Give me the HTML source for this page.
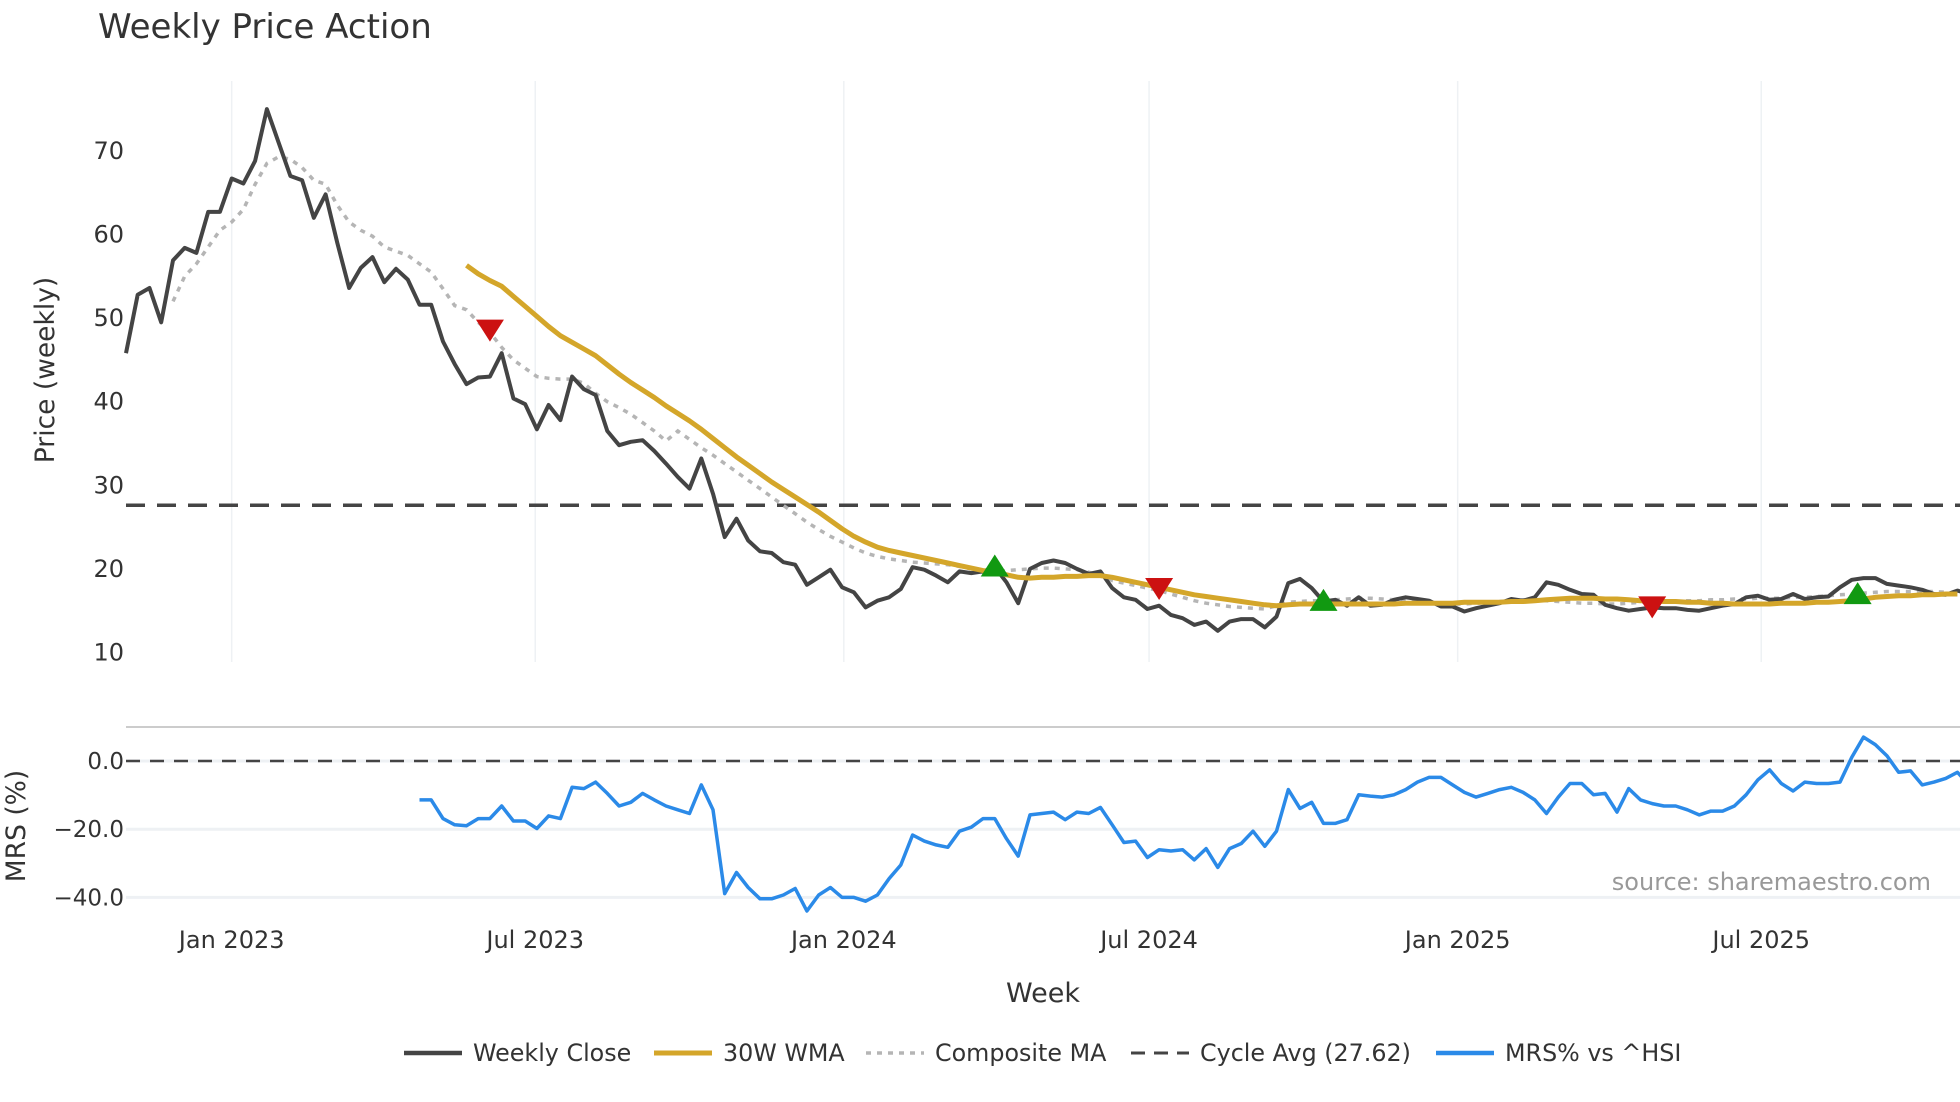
<!DOCTYPE html>
<html><head><meta charset="utf-8"><style>
body{margin:0;background:#fff;}
svg{display:block;font-family:"DejaVu Sans","Liberation Sans",sans-serif;}
</style></head><body>
<svg id="chart" width="1960" height="1102" viewBox="0 0 1960 1102">
<text x="98" y="38" font-size="34" fill="#333">Weekly Price Action</text>
<g id="grid"></g><g id="series"></g><g id="axes"></g>
<text x="1931" y="890" text-anchor="end" font-size="24" fill="#999">source: sharemaestro.com</text>
<text transform="translate(54,370) rotate(-90)" text-anchor="middle" font-size="26.5" fill="#333">Price (weekly)</text>
<text transform="translate(25,826) rotate(-90)" text-anchor="middle" font-size="26.5" fill="#333">MRS (%)</text>
<text x="1043" y="1002" text-anchor="middle" font-size="27" fill="#333">Week</text>
<g id="legend"></g>
</svg>
<script>
const startDate = new Date(2022,9,30);
const closeVals = [45.8,52.8,53.6,49.5,56.9,58.4,57.8,62.7,62.7,66.7,66.1,68.8,75,71,67,66.5,62,64.8,59,53.6,56,57.3,54.3,55.9,54.6,51.6,51.6,47.2,44.5,42.1,42.9,43,45.8,40.4,39.7,36.7,39.6,37.8,43,41.5,40.8,36.5,34.8,35.2,35.4,34.1,32.6,31,29.6,33.2,29,23.8,26,23.4,22.1,21.9,20.8,20.5,18.1,19,19.9,17.8,17.2,15.4,16.2,16.6,17.6,20.2,19.9,19.2,18.4,19.7,19.5,19.7,20.2,18.4,15.9,20,20.7,21,20.7,20,19.4,19.7,17.7,16.6,16.3,15.2,15.6,14.5,14.1,13.3,13.7,12.6,13.7,14,14,13,14.3,18.3,18.8,17.7,16.1,16.3,15.6,16.6,15.6,15.7,16.3,16.6,16.4,16.2,15.5,15.5,14.9,15.3,15.6,15.9,16.4,16.2,16.6,18.4,18.1,17.5,17,16.9,15.7,15.3,15,15.2,15.4,15.3,15.3,15.1,15,15.3,15.6,15.8,16.6,16.8,16.3,16.4,17,16.4,16.6,16.7,17.8,18.7,18.9,18.9,18.2,18,17.8,17.5,17,16.9,17.4,17];
const compositeStart = 4;
const compositeVals = [52,55,56.5,58.5,60.5,61.5,63,66,68.5,69.3,69,68,66.5,66,63.5,61.5,60.5,59.8,58.5,58,57.5,56.5,55.5,53.5,51.5,51,49.5,48.3,46.5,45,44,43,42.8,42.7,42.7,42.2,41,40,39.3,38.5,37.5,36.5,35.3,36.5,35.5,
34.5,33.6,32.6,31.6,30.6,29.6,28.6,27.6,26.6,25.6,
24.7,23.9,23.2,22.5,21.9,21.5,21.2,21.0,20.8,20.7,20.6,20.5,20.3,20.0,19.6,19.7,19.8,19.9,20.0,20.1,20.1,20.0,19.9,19.6,19.2,18.6,18.3,18.0,17.7,17.4,17.0,16.6,16.2,15.9,15.7,15.5,15.4,15.3,15.2,15.6,16.0,16.1,16.2,16.2,16.3,16.4,16.5,16.5,16.4,16.3,16.2,16.1,16.0,15.9,15.8,15.8,15.9,16.0,16.1,16.2,16.3,16.3,16.2,16.1,16.0,15.9,15.9,15.8,15.8,15.9,16.0,16.0,16.1,16.1,16.2,16.2,16.3,16.3,16.4,16.4,16.5,16.5,16.5,16.6,16.6,16.7,16.8,16.9,17.0,17.1,17.2,17.3,17.3,17.3,17.3,17.3,17.2];
const wmaStart = 29;
const wmaVals = [56.3,55.3,54.5,53.8,52.6,51.4,50.2,49,47.9,47.1,46.3,45.5,44.4,43.3,42.3,41.4,40.5,39.5,38.6,37.7,
36.7,35.6,34.5,33.4,32.4,31.4,30.4,29.5,28.6,27.7,26.8,25.8,24.8,23.9,23.2,22.6,22.2,21.9,21.6,21.3,21.0,20.7,20.4,20.1,19.8,19.6,19.3,19.0,18.9,
19.0,19.0,19.1,19.1,19.2,19.2,19.0,18.7,18.4,18.1,17.8,17.5,17.2,16.9,16.7,16.5,16.3,16.1,15.9,15.7,15.6,
15.7,15.8,15.8,15.8,15.8,15.8,15.8,15.8,15.8,15.8,15.9,15.9,15.9,15.9,15.9,16.0,16.0,
16.0,16.0,16.1,16.1,16.2,16.3,16.4,16.5,16.5,16.5,16.4,16.4,16.3,16.2,16.2,16.1,16.1,16.0,16.0,15.9,15.9,15.8,15.8,15.8,15.8,15.9,15.9,15.9,16.0,16.0,16.1,16.2,16.4,16.6,16.7,16.8,16.8,16.9,16.9,17.0,17.0];
const cycleAvg = 27.62;
const sigIdx = [31,74,88,102,130,147.5];
const sigPrice = [48.5,20.4,17.6,16.3,15.4,17.1];
const sigType = ["sell","buy","sell","buy","sell","buy"];
const mrsStart = 25;
const mrsVals = [-11.4,-11.4,-16.9,-18.7,-19,-16.9,-16.9,-13.2,-17.6,-17.6,-19.8,-16.1,-16.9,-7.7,-8.1,-6.2,-9.5,-13.2,-12.1,-9.5,-11.4,-13.2,-14.3,-15.4,-7,-14.3,-38.9,-32.7,-37.1,-40.4,-40.4,-39.3,-37.4,-44,-39.3,-37.1,-40,-40,-41.1,-39.3,-34.5,-30.5,-21.7,-23.5,-24.6,-25.3,-20.6,-19.4,-16.9,-16.9,-22.8,-27.9,-15.8,-15.4,-15,-17.2,-15,-15.4,-13.6,-18.7,-23.9,-23.5,-28.3,-26,-26.4,-26,-29,-25.7,-31.2,-25.7,-24.2,-20.6,-25,-20.6,-8.4,-13.9,-12.1,-18.3,-18.3,-17.2,-9.9,-10.3,-10.6,-9.9,-8.4,-6.2,-4.8,-4.8,-7,-9.2,-10.6,-9.5,-8.4,-7.7,-9.2,-11.4,-15.4,-10.6,-6.6,-6.6,-9.9,-9.5,-15,-8.1,-11.4,-12.5,-13.2,-13.2,-14.3,-15.8,-14.7,-14.7,-13.2,-9.9,-5.5,-2.6,-6.6,-8.8,-6.2,-6.6,-6.6,-6.2,1.1,7,4.8,1.5,-3.3,-2.9,-7,-6.2,-5.1,-3.3,-7];
const priceTicks = [10,20,30,40,50,60,70];
const mrsTicks = [0,-20,-40];
const mrsTickLabels = ["0.0","\u221220.0","\u221240.0"];
const xTickDates = ["2023-01-01","2023-07-01","2024-01-01","2024-07-01","2025-01-01","2025-07-01"];
const xTickLabels = ["Jan 2023","Jul 2023","Jan 2024","Jul 2024","Jan 2025","Jul 2025"];

const NS="http://www.w3.org/2000/svg";
const X0=126, STEP=11.74;
const x = i => X0 + i*STEP;
const y = p => 652.5 - (p-10)*8.36;
const ym = v => 761 - v*3.41;
const dateIdx = s => { const p=s.split('-'); return (new Date(+p[0],+p[1]-1,+p[2]) - startDate)/(7*864e5); };
function mk(tag, attrs, parent){ const e=document.createElementNS(NS,tag); for(const k in attrs) e.setAttribute(k,attrs[k]); parent.appendChild(e); return e; }
const grid=document.getElementById('grid'), ser=document.getElementById('series'), ax=document.getElementById('axes'), leg=document.getElementById('legend');

xTickDates.forEach((d,k)=>{
  const xx=x(dateIdx(d));
  const g=mk('line',{x1:xx,x2:xx,y1:81,y2:662,stroke:'#eef1f4','stroke-width':1.5},grid);
  
  
  const t=mk('text',{x:xx,y:948,'text-anchor':'middle','font-size':24,fill:'#333'},ax);
  t.textContent=xTickLabels[k];
  
  
});
priceTicks.forEach(p=>{
  const t=mk('text',{x:124,y:y(p)+8,'text-anchor':'end','font-size':24,fill:'#333'},ax);
  t.textContent=p;
  
  
});
const sep=mk('line',{x1:126,x2:1960,y1:727,y2:727,stroke:'#ccc','stroke-width':2},grid);


mrsTicks.forEach((v,k)=>{
  const g=mk('line',{x1:126,x2:1960,y1:ym(v),y2:ym(v),stroke:'#eef1f4','stroke-width':3},grid);
  
  
  const t=mk('text',{x:124,y:ym(v)+8,'text-anchor':'end','font-size':23,fill:'#333'},ax);
  t.textContent=mrsTickLabels[k];
  
  
});
const zl=mk('line',{x1:126,x2:1960,y1:ym(0),y2:ym(0),stroke:'#444','stroke-width':2.5,'stroke-dasharray':'14 10'},ser);


const cl=mk('line',{x1:126,x2:1960,y1:y(cycleAvg),y2:y(cycleAvg),stroke:'#444','stroke-width':3.5,'stroke-dasharray':'19 12'},ser);



function pts(vals,start,fy){ return vals.map((v,i)=>x(start+i).toFixed(1)+','+fy(v).toFixed(1)).join(' '); }
const comp=mk('polyline',{points:pts(compositeVals,compositeStart,y),fill:'none',stroke:'#b5b5b5','stroke-width':3.5,'stroke-dasharray':'5 6'},ser);


const cls=mk('polyline',{points:pts(closeVals,0,y),fill:'none',stroke:'#444','stroke-width':4,'stroke-linejoin':'round'},ser);


const wma=mk('polyline',{points:pts(wmaVals,wmaStart,y),fill:'none',stroke:'#d4a62a','stroke-width':5,'stroke-linejoin':'round'},ser);


const mrs=mk('polyline',{points:pts(mrsVals,mrsStart,ym),fill:'none',stroke:'#2b8ae8','stroke-width':3.5,'stroke-linejoin':'round'},ser);


sigIdx.forEach((si,k)=>{
  const cx=x(si), cy=y(sigPrice[k]);
  const d = sigType[k]==='sell' ? `M${cx-14},${cy-11} L${cx+14},${cy-11} L${cx},${cy+11} Z` : `M${cx-14},${cy+11} L${cx+14},${cy+11} L${cx},${cy-11} Z`;
  const p=mk('path',{d:d,fill:sigType[k]==='sell'?'#cc1111':'#119911'},ser);
  
  
});

const legendItems=[
 {x:404,label:'Weekly Close',stroke:'#444',dash:'',w:4.5,name:'legend-weekly-close'},
 {x:654,label:'30W WMA',stroke:'#d4a62a',dash:'',w:5,name:'legend-wma'},
 {x:866,label:'Composite MA',stroke:'#b5b5b5',dash:'5 6',w:3.5,name:'legend-composite-ma'},
 {x:1131,label:'Cycle Avg (27.62)',stroke:'#444',dash:'14 9',w:3,name:'legend-cycle-avg'},
 {x:1436,label:'MRS% vs ^HSI',stroke:'#2b8ae8',dash:'',w:4.5,name:'legend-mrs'}];
legendItems.forEach(it=>{
  const g=mk('g',{},leg);
  
  
  const l=mk('line',{x1:it.x,x2:it.x+58,y1:1053,y2:1053,stroke:it.stroke,'stroke-width':it.w,'stroke-dasharray':it.dash},g);
  
  
  const t=mk('text',{x:it.x+69,y:1061,'font-size':23.8,fill:'#333'},g);
  t.textContent=it.label;
  
  
});
</script>
</body></html>
